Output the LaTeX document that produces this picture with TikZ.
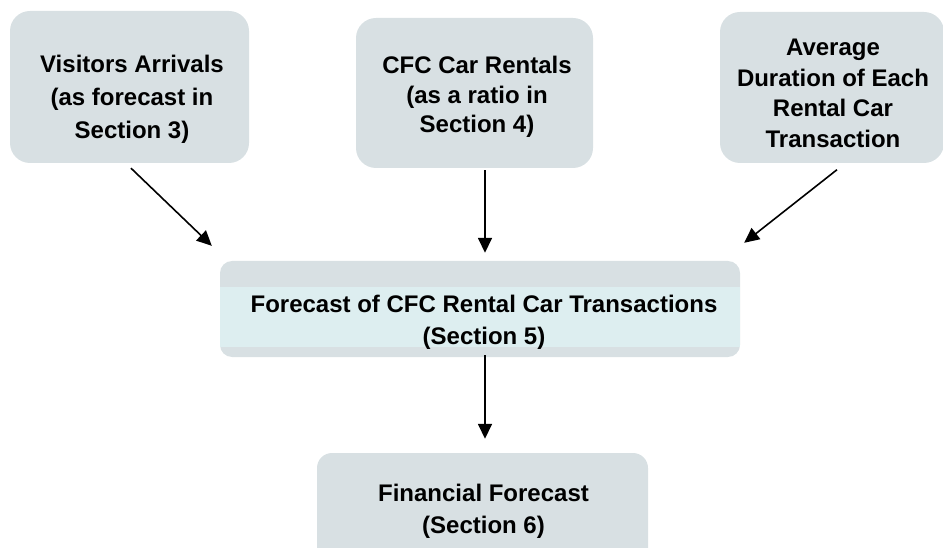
\documentclass[tikz,border=0pt]{standalone}
\usepackage{fontspec}
\setmainfont{Liberation Sans}
\usetikzlibrary{arrows.meta,calc}
\definecolor{boxgray}{RGB}{216,224,227}
\definecolor{bandcyan}{RGB}{221,238,240}
\begin{document}
\begin{tikzpicture}[x=1pt,y=-1pt,
  card/.style={fill=boxgray, draw=none, rounded corners=#1, inner sep=0pt},
  card/.default=20pt,
  lbl/.style={font=\bfseries\fontsize{24}{31.5}\selectfont, align=center, inner sep=0pt, text=black},
  flow/.style={line width=1.6pt, -{Triangle[length=15pt,width=14pt]}}]
\useasboundingbox (0,0) rectangle (943,548);

% input boxes
\node[card, minimum width=239pt, minimum height=152pt] (vis) at (129.5,87) {};
\node[card, minimum width=237pt, minimum height=150pt] (cfc) at (474.5,93) {};
\node[card, minimum width=224pt, minimum height=151pt] (dur) at (832,87.5) {};

% central forecast box with its lighter band
\node[card=12pt, minimum width=520pt, minimum height=96pt] (mid) at (480,309) {};
\fill[bandcyan] ($(mid.west)+(0,-22)$) rectangle ($(mid.east)+(0,38)$);

% result box
\node[card=15pt, minimum width=331pt, minimum height=112pt] (fin) at (482.5,509) {};

% labels
\node[lbl, font=\bfseries\fontsize{24}{33}\selectfont] (visT) at (132,99.6) {Visitors Arrivals\\(as forecast in\\Section 3)};
\node[lbl, font=\bfseries\fontsize{24}{29.5}\selectfont] (cfcT) at (477,97) {CFC Car Rentals\\(as a ratio in\\Section 4)};
\node[lbl, font=\bfseries\fontsize{24}{30.5}\selectfont] (durT) at (833,93.6) {Average\\Duration of Each\\Rental Car\\Transaction};
\node[lbl, font=\bfseries\fontsize{24}{32}\selectfont] (midT) at (484,322.6) {Forecast of CFC Rental Car Transactions\\(Section 5)};
\node[lbl, font=\bfseries\fontsize{24}{32}\selectfont] (finT) at (483.5,511.6) {Financial Forecast\\(Section 6)};

% connector end points
\coordinate (a1s) at ($(vis.south)+(1.5,5)$);
\coordinate (a1e) at ($(mid.north west)+(-8,-15)$);
\coordinate (a2s) at ($(cfc.south)+(10.5,2)$);
\coordinate (a2e) at ($(mid.north)+(5,-8)$);
\coordinate (a3s) at ($(dur.south)+(5,6.5)$);
\coordinate (a3e) at ($(mid.north east)+(4,-18)$);
\coordinate (a4s) at ($(mid.south)+(5,-2)$);
\coordinate (a4e) at ($(fin.north)+(2.5,-14)$);

\draw[flow] (a1s) -- (a1e);
\draw[flow] (a2s) -- (a2e);
\draw[flow] (a3s) -- (a3e);
\draw[flow] (a4s) -- (a4e);
\end{tikzpicture}
\end{document}
